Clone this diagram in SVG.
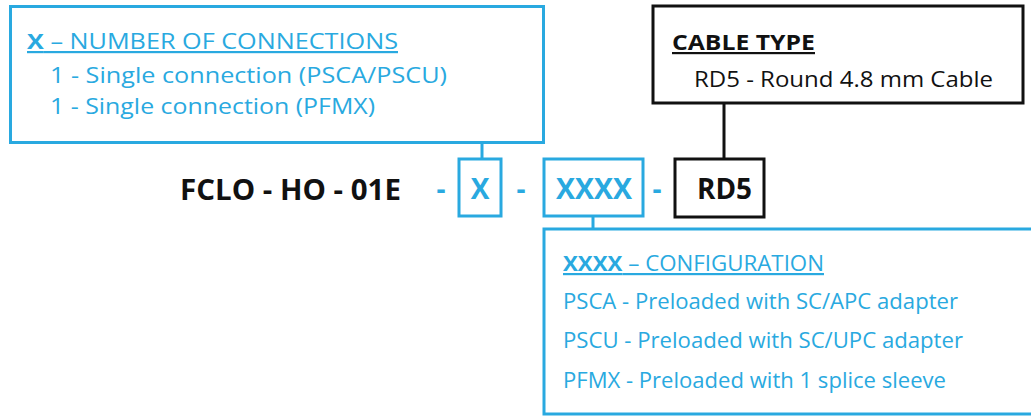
<svg xmlns="http://www.w3.org/2000/svg" width="1031" height="417" viewBox="0 0 1031 417">
<style>
.bbox{fill:none;stroke:#29a9e0;stroke-width:3}
.kbox{fill:none;stroke:#111;stroke-width:3}
.bl{stroke:#29a9e0;stroke-width:3}
.kl{stroke:#111;stroke-width:3}
text{font-family:"Open Sans","Noto Sans","Liberation Sans",sans-serif}
.bt{fill:#29a9e0;font-size:22px}
.kt{fill:#111;font-size:22px}
.big{font-size:28px;font-weight:bold}
.b{font-weight:bold}
.u{text-decoration:underline}
</style>
<rect width="1031" height="417" fill="#fff"/>
<g id="connectors">
<line class="bl" x1="482" y1="144" x2="482" y2="159"/>
<line class="bl" x1="593" y1="216" x2="593" y2="229"/>
<line class="kl" x1="724" y1="103" x2="724" y2="159"/>
</g>
<g id="x-legend">
<rect class="bbox" x="10.5" y="6.5" width="533" height="136"/>
<text class="bt u" x="27" y="49" textLength="371" lengthAdjust="spacingAndGlyphs"><tspan class="b">X</tspan>  – NUMBER OF CONNECTIONS</text>
<text class="bt" x="50" y="83" textLength="397" lengthAdjust="spacingAndGlyphs">1 - Single connection (PSCA/PSCU)</text>
<text class="bt" x="50" y="114" textLength="325" lengthAdjust="spacingAndGlyphs">1 - Single connection (PFMX)</text>
</g>
<g id="cable-type">
<rect class="kbox" x="653" y="6" width="370" height="97"/>
<text class="kt b u" x="672" y="50" textLength="143" lengthAdjust="spacingAndGlyphs">CABLE TYPE</text>
<text class="kt" x="694" y="87" textLength="299" lengthAdjust="spacingAndGlyphs">RD5 - Round 4.8 mm Cable</text>
</g>
<g id="part-number">
<text class="big" x="180" y="200" fill="#111" textLength="221" lengthAdjust="spacingAndGlyphs">FCLO - HO - 01E</text>
<text class="big" x="441" y="199" fill="#29a9e0" text-anchor="middle">-</text>
<text class="big" x="521" y="199" fill="#29a9e0" text-anchor="middle">-</text>
<text class="big" x="657" y="199" fill="#29a9e0" text-anchor="middle">-</text>
</g>
<g id="x-box">
<rect class="bbox" x="459" y="159" width="42" height="57"/>
<text class="big" x="480" y="199" fill="#29a9e0" text-anchor="middle">X</text>
</g>
<g id="xxxx-box">
<rect class="bbox" x="544" y="159" width="99" height="57"/>
<text class="big" x="556" y="199" fill="#29a9e0" textLength="76" lengthAdjust="spacingAndGlyphs">XXXX</text>
</g>
<g id="rd5-box">
<rect class="kbox" x="675" y="159" width="89" height="58"/>
<text class="big" x="697" y="199" fill="#111" textLength="55" lengthAdjust="spacingAndGlyphs">RD5</text>
</g>
<g id="xxxx-legend">
<rect class="bbox" x="544" y="229" width="500" height="185"/>
<text class="bt u" x="563" y="271" textLength="261" lengthAdjust="spacingAndGlyphs"><tspan class="b">XXXX</tspan> – CONFIGURATION</text>
<text class="bt" x="563" y="309" textLength="395" lengthAdjust="spacingAndGlyphs">PSCA - Preloaded with SC/APC adapter</text>
<text class="bt" x="563" y="348" textLength="400" lengthAdjust="spacingAndGlyphs">PSCU - Preloaded with SC/UPC adapter</text>
<text class="bt" x="563" y="388" textLength="383" lengthAdjust="spacingAndGlyphs">PFMX - Preloaded with 1 splice sleeve</text>
</g>
</svg>
